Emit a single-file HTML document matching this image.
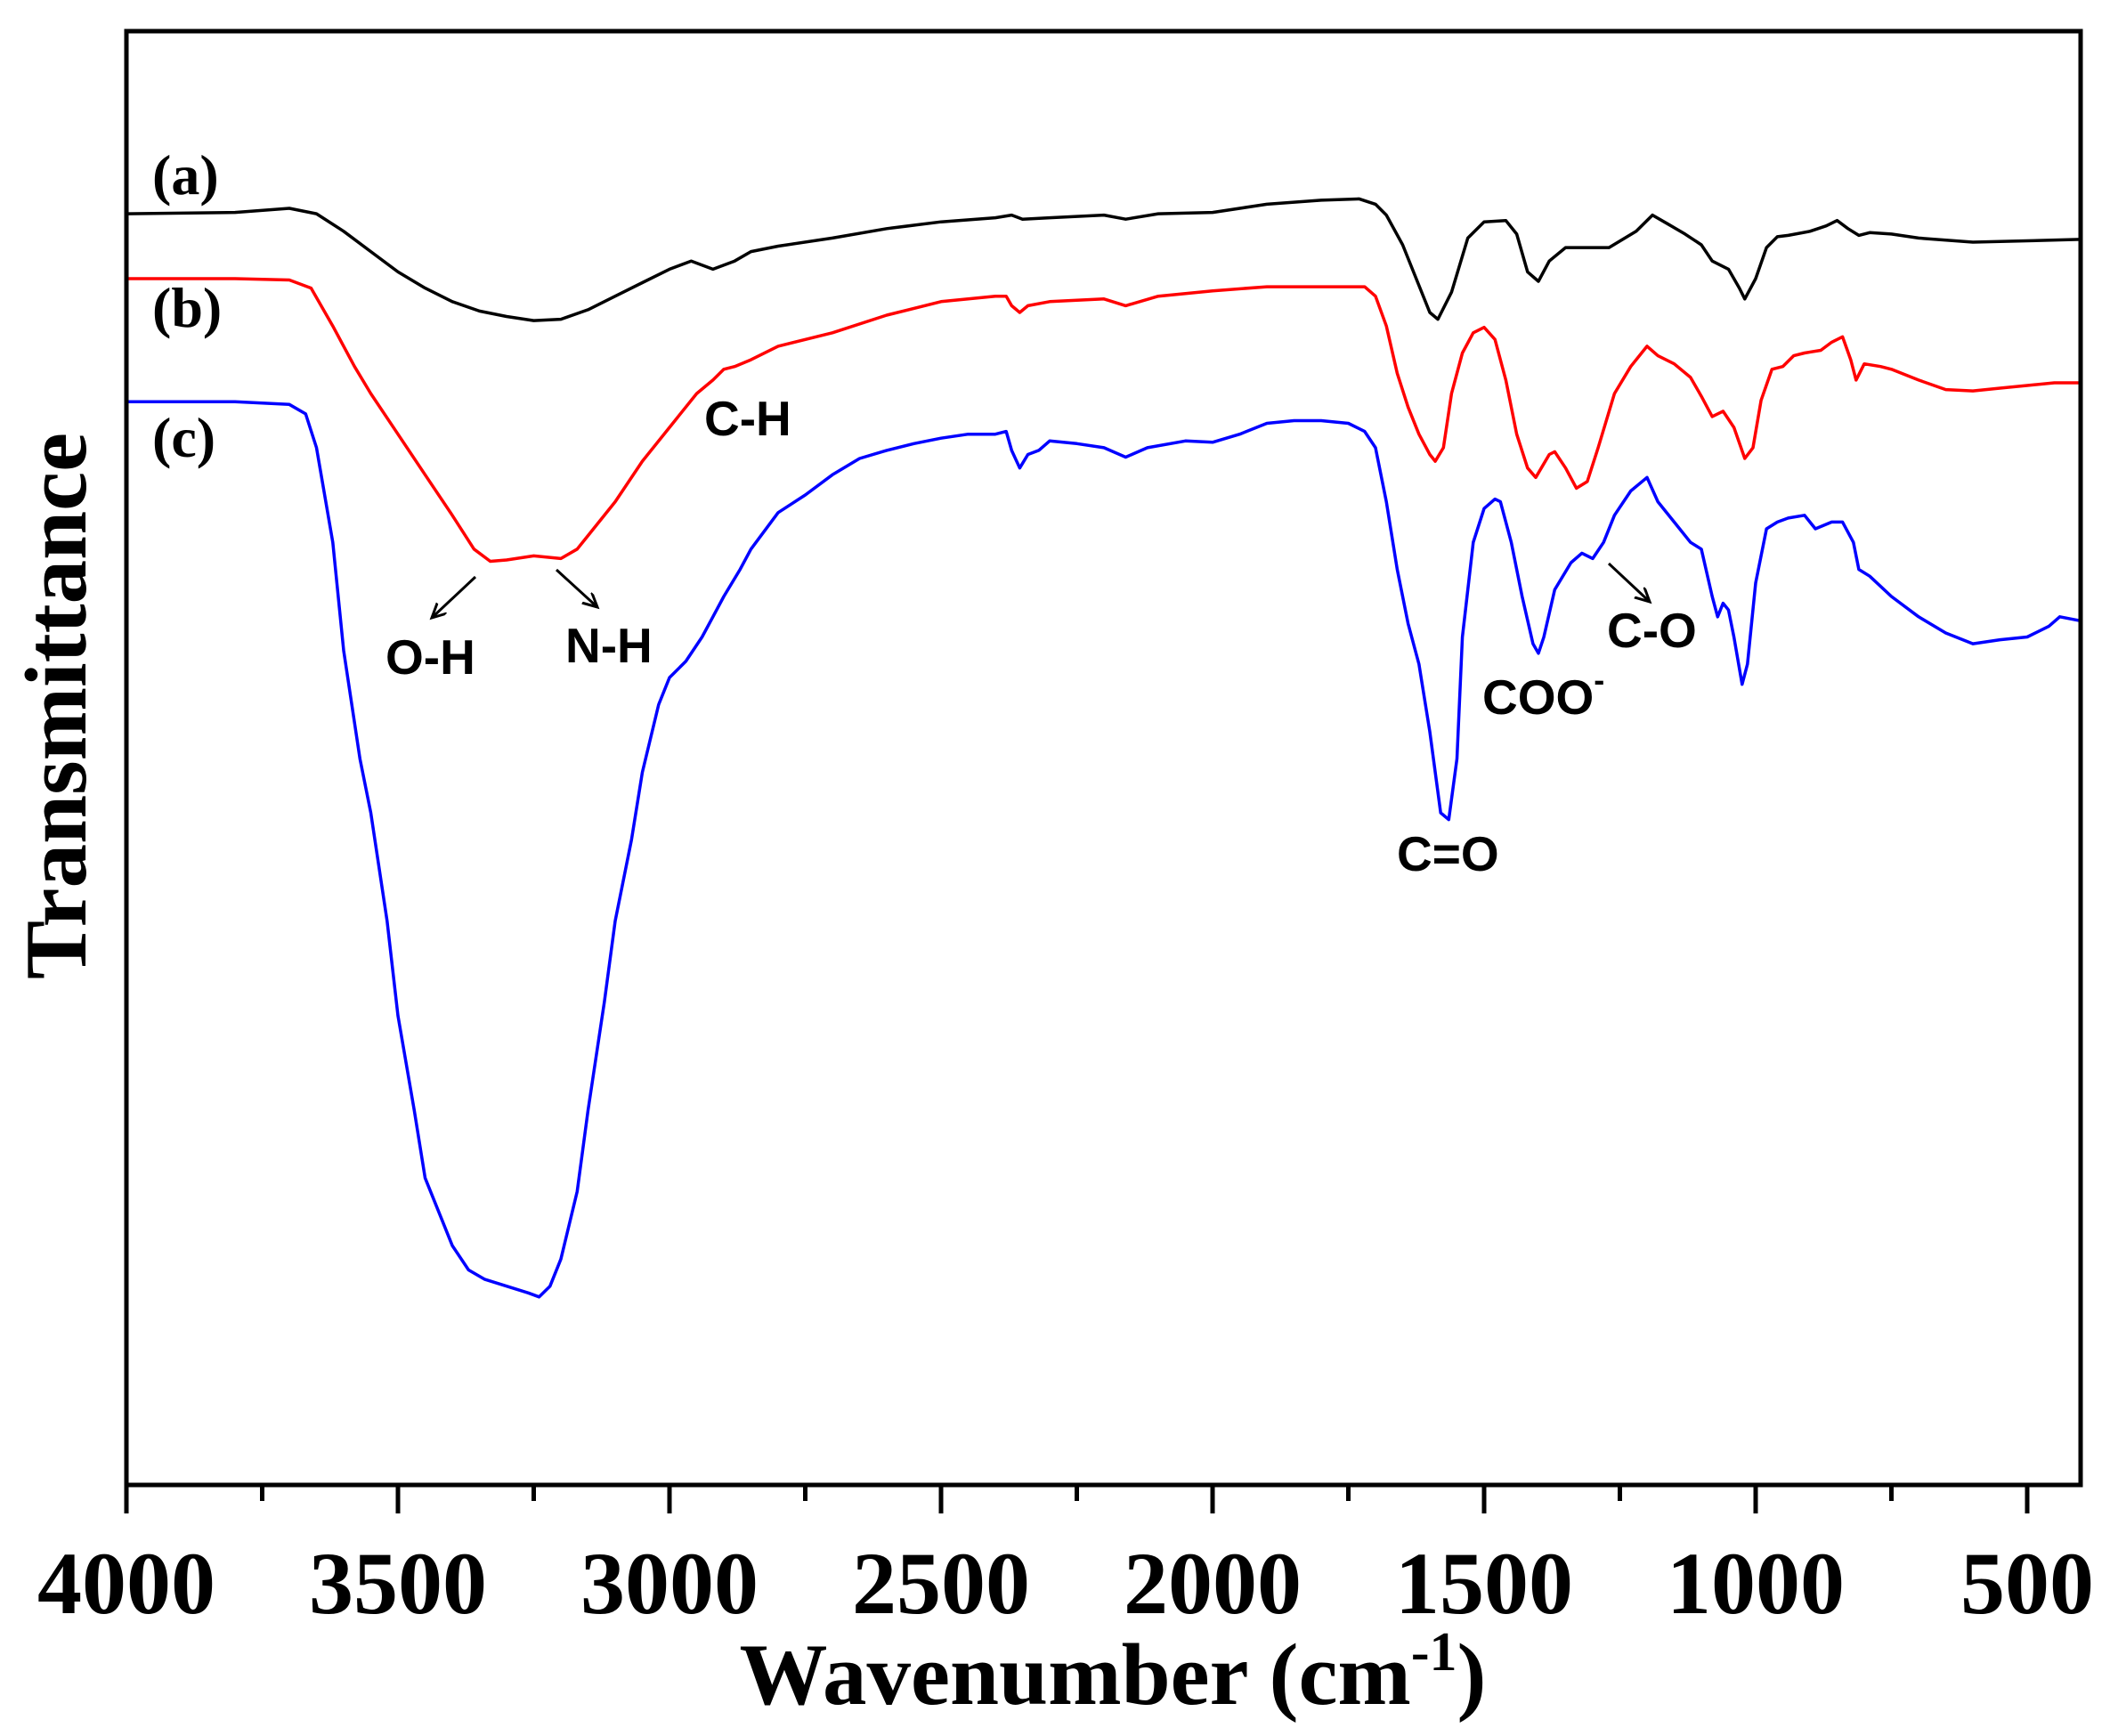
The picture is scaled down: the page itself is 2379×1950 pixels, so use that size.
<!DOCTYPE html>
<html><head><meta charset="utf-8"><style>
html,body{margin:0;padding:0;background:#fff;}
svg{display:block;}
.tk{font-family:"Liberation Serif",serif;font-weight:bold;font-size:100px;}
.ttl{font-family:"Liberation Serif",serif;font-weight:bold;font-size:99px;}
.lbl{font-family:"Liberation Serif",serif;font-weight:bold;font-size:64px;}
.ann{font-family:"Liberation Sans",sans-serif;font-weight:bold;font-size:55px;}
</style></head><body>
<svg id="chart" width="2379" height="1950" viewBox="0 0 2379 1950" xmlns="http://www.w3.org/2000/svg">
<defs><marker id="arr" markerWidth="20" markerHeight="20" refX="16" refY="8" orient="auto" markerUnits="userSpaceOnUse"><path d="M0,0 L16,8 L0,16" fill="none" stroke="#000" stroke-width="3"/></marker></defs>
<g id="plot"></g>
<g id="axes"></g>
<text class="lbl" x="171" y="218">(a)</text>
<text class="lbl" x="171" y="367">(b)</text>
<text class="lbl" x="171" y="513">(c)</text>
<text class="ann" x="791" y="489">C-H</text>
<text class="ann" x="433" y="757">O-H</text>
<text class="ann" x="635" y="744">N-H</text>
<text class="ann" x="1569" y="978">C=O</text>
<text class="ann" x="1665" y="802">COO<tspan dy="-26" font-size="36">-</tspan></text>
<text class="ann" x="1805" y="727">C-O</text>
<line x1="534" y1="648" x2="485" y2="694" stroke="#000" stroke-width="3" marker-end="url(#arr)"/>
<line x1="625" y1="640" x2="671" y2="682" stroke="#000" stroke-width="3" marker-end="url(#arr)"/>
<line x1="1807" y1="633" x2="1853" y2="676" stroke="#000" stroke-width="3" marker-end="url(#arr)"/>
<text class="ttl" x="1250" y="1914" text-anchor="middle">Wavenumber (cm<tspan dy="-38" font-size="62">-1</tspan><tspan dy="38">)</tspan></text>
<text class="ttl" transform="translate(96,793) rotate(-90)" text-anchor="middle">Transmittance</text>
</svg>
<script>
const xTicks = [4000,3500,3000,2500,2000,1500,1000,500];
const xMinor = [3750,3250,2750,2250,1750,1250,750];
const waveA = [4000,3800,3700,3650,3600,3550,3500,3450,3400,3350,3300,3250,3200,3150,3100,3050,3000,2960,2920,2880,2850,2800,2700,2600,2500,2400,2370,2350,2300,2200,2160,2100,2000,1900,1800,1730,1700,1680,1650,1620,1600,1585,1560,1530,1500,1460,1440,1420,1400,1380,1350,1300,1270,1220,1190,1160,1130,1100,1080,1050,1030,1020,1000,980,960,940,900,870,850,830,810,790,750,700,600,500,402];
const valA = [940,941,944,940,927,912,897,885,875,868,864,861,862,869,879,889,899,905,899,905,912,916,922,929,934,937,939,936,937,939,936,940,941,947,950,951,947,939,917,887,867,862,882,922,934,935,925,897,890,905,915,915,915,927,939,932,925,917,905,899,885,877,892,915,923,924,927,931,935,929,924,926,925,922,919,920,921];
const waveB = [4000,3800,3700,3660,3620,3580,3550,3500,3450,3400,3360,3330,3300,3250,3200,3170,3150,3100,3050,3000,2950,2920,2900,2880,2850,2800,2700,2600,2500,2400,2380,2370,2355,2340,2300,2200,2160,2100,2000,1900,1800,1720,1700,1680,1660,1640,1620,1600,1590,1575,1560,1540,1520,1500,1480,1460,1440,1420,1405,1380,1370,1350,1330,1310,1290,1260,1230,1200,1180,1150,1120,1100,1080,1060,1040,1020,1005,990,970,950,930,910,880,860,840,825,815,800,770,750,700,650,600,550,500,450,402];
const valB = [892,892,891,885,857,827,807,777,747,717,692,683,684,687,685,692,702,727,757,782,807,817,825,827,832,842,852,865,875,879,879,872,867,872,875,877,872,879,883,886,886,886,879,857,822,797,777,762,757,767,807,837,852,856,847,817,777,752,745,762,764,752,737,742,767,807,827,842,835,829,819,805,790,794,782,759,767,802,825,827,835,837,839,845,849,832,817,829,827,825,817,810,809,811,813,815,815];
const waveC = [4000,3800,3700,3670,3650,3620,3600,3570,3550,3520,3500,3470,3450,3420,3400,3370,3340,3300,3260,3240,3220,3200,3170,3150,3120,3100,3070,3050,3020,3000,2970,2940,2920,2900,2870,2850,2800,2750,2700,2650,2600,2550,2500,2450,2400,2380,2370,2355,2340,2320,2300,2250,2200,2160,2120,2050,2000,1950,1900,1850,1800,1750,1720,1700,1680,1660,1640,1620,1600,1580,1565,1550,1540,1520,1500,1480,1470,1450,1430,1410,1400,1390,1370,1340,1320,1300,1280,1260,1230,1200,1180,1150,1120,1100,1080,1070,1060,1050,1040,1025,1015,1000,980,960,940,910,890,860,840,820,810,790,750,700,650,600,550,500,460,440,402];
const valC = [801,801,799,792,767,697,617,537,497,417,347,277,227,197,177,159,152,147,142,139,147,167,217,277,357,417,477,527,577,597,609,627,642,657,677,692,719,732,747,759,765,770,774,777,777,779,765,752,762,765,772,770,767,760,767,772,771,777,785,787,787,785,779,767,727,677,637,607,557,497,492,537,627,697,722,729,727,697,657,622,615,627,662,682,689,685,697,717,735,745,727,712,697,692,657,642,652,647,627,592,607,667,707,712,715,717,707,712,712,697,677,672,657,642,630,622,625,627,635,642,639];

const L=142,R=2337,T=35,B=1668;
const xS = w => L + (4000 - w) * 0.61;
const yS = v => B - v * (B - T) / 1075;
const NS='http://www.w3.org/2000/svg';
const plot=document.getElementById('plot'), axes=document.getElementById('axes');
function series(w,v,color,name){
  const p=document.createElementNS(NS,'path');
  p.setAttribute('d', w.map((x,i)=>(i?'L':'M')+xS(x).toFixed(1)+','+yS(v[i]).toFixed(1)).join(' '));
  p.setAttribute('fill','none');p.setAttribute('stroke',color);p.setAttribute('stroke-width','3.5');p.setAttribute('stroke-linejoin','round');
  
  
  plot.appendChild(p);
}
series(waveA,valA,'#000','series-a');
series(waveB,valB,'#ff0000','series-b');
series(waveC,valC,'#0000ff','series-c');
const frame=document.createElementNS(NS,'rect');
frame.setAttribute('x',L);frame.setAttribute('y',T);frame.setAttribute('width',R-L);frame.setAttribute('height',B-T);
frame.setAttribute('fill','none');frame.setAttribute('stroke','#000');frame.setAttribute('stroke-width','5');


axes.appendChild(frame);
xTicks.forEach(t=>{
  const l=document.createElementNS(NS,'line');
  l.setAttribute('x1',xS(t));l.setAttribute('x2',xS(t));l.setAttribute('y1',B);l.setAttribute('y2',B+32);
  l.setAttribute('stroke','#000');l.setAttribute('stroke-width','5');
  
  
  axes.appendChild(l);
  const tx=document.createElementNS(NS,'text');
  tx.setAttribute('x',xS(t));tx.setAttribute('y',1812);tx.setAttribute('text-anchor','middle');tx.setAttribute('class','tk');
  tx.textContent=t;
  
  
  axes.appendChild(tx);
});
xMinor.forEach(t=>{
  const l=document.createElementNS(NS,'line');
  l.setAttribute('x1',xS(t));l.setAttribute('x2',xS(t));l.setAttribute('y1',B);l.setAttribute('y2',B+18);
  l.setAttribute('stroke','#000');l.setAttribute('stroke-width','5');
  
  
  axes.appendChild(l);
});
</script>
</body></html>
